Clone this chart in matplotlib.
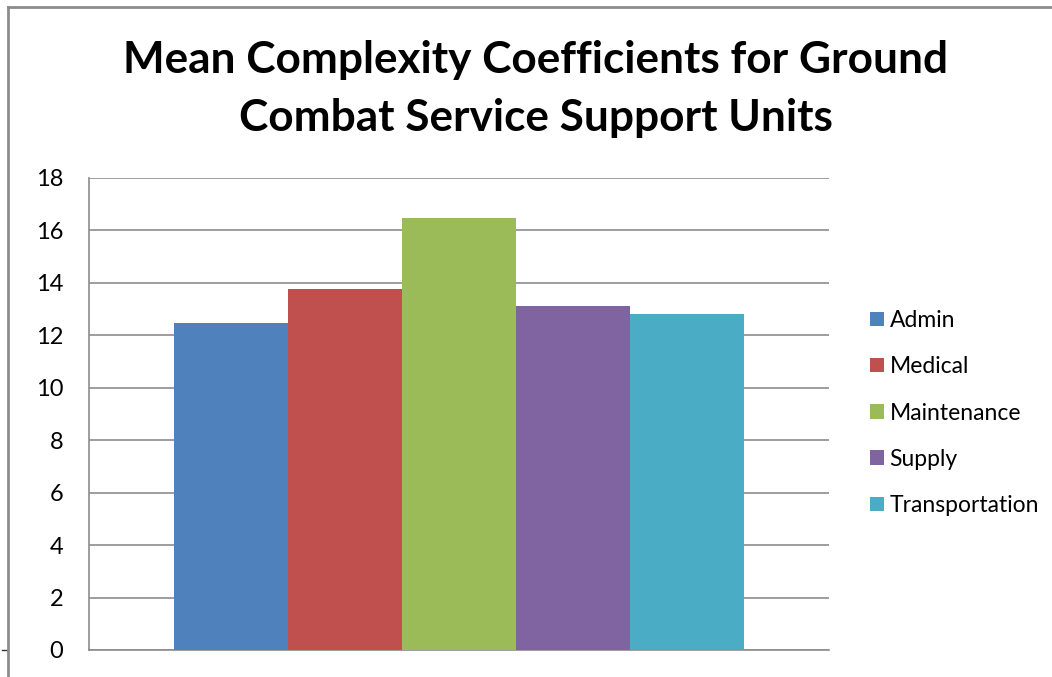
import matplotlib
matplotlib.use("Agg")
import matplotlib.pyplot as plt
from matplotlib.lines import Line2D

series = ["Admin", "Medical", "Maintenance", "Supply", "Transportation"]
values = [12.47, 13.77, 16.48, 13.12, 12.81]
colors = ["#4F81BD", "#C0504D", "#9BBB59", "#8064A2", "#4BACC6"]
yticks = [0, 2, 4, 6, 8, 10, 12, 14, 16, 18]
title_lines = ["Mean Complexity Coefficients for Ground", "Combat Service Support Units"]

plt.rcParams['font.family'] = ['Lato', 'DejaVu Sans']

W, H = 1052, 677
fig = plt.figure(figsize=(W / 100, H / 100), dpi=100)
ax = fig.add_axes([89 / W, 1 - 650 / H, (829 - 89) / W, (650 - 178) / H])

group = 0.769
w = group / len(series)
for i, (s, v, c) in enumerate(zip(series, values, colors)):
    ax.bar((i - (len(series) - 1) / 2) * w, v, width=w, color=c, label=s, zorder=3)

ax.set_xlim(-0.5, 0.5)
ax.set_ylim(0, 18)
ax.set_yticks(yticks)
ax.set_yticklabels([str(t) for t in yticks], fontsize=17)
ax.set_xticks([])
ax.tick_params(axis='y', length=0, pad=18.5)
ax.grid(axis='y', color='#8c8c8c', linewidth=1.2, zorder=0)
for side in ['top', 'right']:
    ax.spines[side].set_visible(False)
for side in ['left', 'bottom']:
    ax.spines[side].set_color('#8c8c8c')
    ax.spines[side].set_linewidth(1.2)

leg = fig.legend(loc='center left', bbox_to_anchor=(861 / W, 1 - 413 / H),
                 frameon=False, fontsize=16.5, handlelength=0.6, handleheight=0.6,
                 handletextpad=0.25, labelspacing=1.1, borderaxespad=0)

for k, (line, yc) in enumerate(zip(title_lines, [60, 118])):
    fig.text(536 / W, 1 - yc / H, line, ha='center', va='center', fontsize=31.8,
             fontweight='bold')

# chart outer border (cropped at right and bottom)
fig.add_artist(Line2D([8 / W, 8 / W], [0, 1 - 7 / H], color='#8c8c8c', linewidth=2,
                      transform=fig.transFigure))
fig.add_artist(Line2D([8 / W, 1], [1 - 7 / H, 1 - 7 / H], color='#8c8c8c', linewidth=2,
                      transform=fig.transFigure))
fig.add_artist(Line2D([2 / W, 6 / W], [1 - 650 / H, 1 - 650 / H], color='#333333',
                      linewidth=1, transform=fig.transFigure))

fig.savefig("out.png", dpi=100)
